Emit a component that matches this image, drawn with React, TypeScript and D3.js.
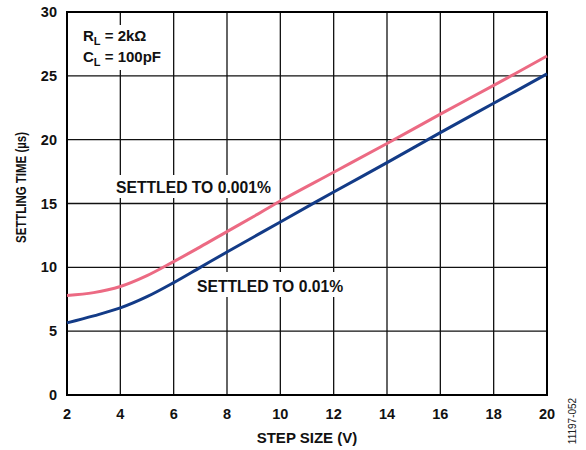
import React from "react";
import * as d3 from "d3";

const stepSize = [2, 3, 4, 5, 6, 7, 8, 9, 10, 12, 14, 16, 18, 20];
const settled0001 = [7.8, 8.02, 8.5, 9.35, 10.45, 11.6, 12.8, 13.98, 15.2, 17.45, 19.7, 22.0, 24.25, 26.55];
const settled001 = [5.65, 6.2, 6.82, 7.7, 8.8, 10.0, 11.2, 12.38, 13.55, 15.9, 18.2, 20.55, 22.85, 25.15];
const xTicks = [2, 4, 6, 8, 10, 12, 14, 16, 18, 20];
const yTicks = [0, 5, 10, 15, 20, 25, 30];

const W = 586;
const H = 450;
const L = 67, R = 547, T = 12, B = 395;
const PINK = "#ec6a83";
const BLUE = "#133b87";
const FONT = "'Liberation Sans', Arial, Helvetica, sans-serif";

export default function App() {
  const x = d3.scaleLinear().domain([2, 20]).range([L, R]);
  const y = d3.scaleLinear().domain([0, 30]).range([B, T]);
  const line = (vals: number[]) =>
    d3
      .line<number>()
      .x((_, i) => x(stepSize[i]))
      .y((d) => y(d))
      .curve(d3.curveCatmullRom.alpha(0.5))(vals) || "";

  return (
    <svg
      width={W}
      height={H}
      style={{ position: "absolute", left: 0, top: 0, background: "#fff" }}
      fontFamily={FONT}
    >
      <rect x={0} y={0} width={W} height={H} fill="#fff" />
      {/* grid */}
      {xTicks.map((t) => (
        <line key={"gx" + t} x1={x(t)} x2={x(t)} y1={T} y2={B} stroke="#111" strokeWidth={1.3} />
      ))}
      {yTicks.map((t) => (
        <line key={"gy" + t} x1={L} x2={R} y1={y(t)} y2={y(t)} stroke="#111" strokeWidth={1.3} />
      ))}
      {/* label backgrounds */}
      <rect x={78} y={25} width={90} height={45} fill="#fff" />
      <rect x={110} y={175} width={168} height={23} fill="#fff" />
      <rect x={192} y={272} width={158} height={25} fill="#fff" />
      {/* frame */}
      <rect x={L} y={T} width={R - L} height={B - T} fill="none" stroke="#000" strokeWidth={2} />
      {/* curves */}
      <path d={line(settled0001)} fill="none" stroke={PINK} strokeWidth={3} />
      <path d={line(settled001)} fill="none" stroke={BLUE} strokeWidth={3} />
      {/* tick labels */}
      {xTicks.map((t) => (
        <text key={"tx" + t} x={x(t)} y={419} textAnchor="middle" fontSize={14.5} fontWeight="bold" fill="#111">
          {t}
        </text>
      ))}
      {yTicks.map((t) => (
        <text key={"ty" + t} x={57} y={y(t) + 5} textAnchor="end" fontSize={14.5} fontWeight="bold" fill="#111">
          {t}
        </text>
      ))}
      {/* axis titles */}
      <text x={(L + R) / 2} y={443} textAnchor="middle" fontSize={15} fontWeight="bold" fill="#111">
        STEP SIZE (V)
      </text>
      <text
        transform={`translate(26,${(T + B) / 2 - 16}) rotate(-90)`}
        textAnchor="middle"
        fontSize={14}
        fontWeight="bold"
        fill="#111"
        textLength={111}
        lengthAdjust="spacingAndGlyphs"
      >
        SETTLING TIME (µs)
      </text>
      {/* annotations */}
      <text x={83} y={41} fontSize={15} fontWeight="bold" fill="#111">
        R<tspan fontSize={11} dy={4}>L</tspan>
        <tspan dy={-4}> = 2kΩ</tspan>
      </text>
      <text x={83} y={62} fontSize={15} fontWeight="bold" fill="#111">
        C<tspan fontSize={11} dy={4}>L</tspan>
        <tspan dy={-4}> = 100pF</tspan>
      </text>
      <text x={116} y={193} fontSize={15.7} fontWeight="bold" fill="#111">
        SETTLED TO 0.001%
      </text>
      <text x={197} y={292} fontSize={15.7} fontWeight="bold" fill="#111">
        SETTLED TO 0.01%
      </text>
      <text
        transform="translate(576,421) rotate(-90)"
        textAnchor="middle"
        fontSize={10}
        fill="#222"
      >
        11197-052
      </text>
    </svg>
  );
}
